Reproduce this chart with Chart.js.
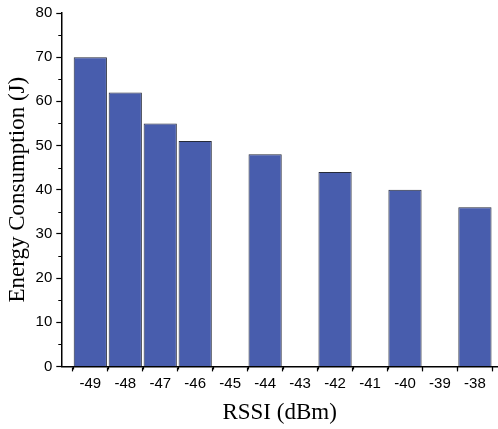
<!DOCTYPE html>
<html>
<head>
<meta charset="utf-8">
<script src="https://cdn.jsdelivr.net/npm/chart.js@4"></script>
<style>
html,body{margin:0;padding:0;background:#fff;}
#wrap{width:498px;height:429px;}
</style>
</head>
<body>
<div id="wrap"><canvas id="c" width="498" height="429"></canvas></div>
<script>
const rssi = [-49, -48, -47, -46, -44, -42, -40, -38];
const energy = [70, 62, 55, 51, 48, 44, 40, 36];
const xTickValues = [-49, -48, -47, -46, -45, -44, -43, -42, -41, -40, -39, -38];
const yTickValues = [0, 10, 20, 30, 40, 50, 60, 70, 80];
const xTitle = 'RSSI (dBm)';
const yTitle = 'Energy Consumption (J)';

const minorTicks = {
  id: 'minorTicks',
  afterDraw(chart) {
    const ctx = chart.ctx;
    const xs = chart.scales.x, ys = chart.scales.y;
    ctx.save();
    ctx.strokeStyle = '#000';
    ctx.lineWidth = 1.2;
    ctx.beginPath();
    for (let i = 0; i < yTickValues.length - 1; i++) {
      const v = (yTickValues[i] + yTickValues[i + 1]) / 2;
      const py = Math.round(ys.getPixelForValue(v)) + 0.5;
      ctx.moveTo(xs.left, py);
      ctx.lineTo(xs.left - 3, py);
    }
    const halfs = xTickValues.map(v => v - 0.5).concat([xTickValues[xTickValues.length - 1] + 0.5]);
    halfs.forEach(v => {
      const px = Math.round(xs.getPixelForValue(v)) + 0.5;
      ctx.moveTo(px, ys.bottom);
      ctx.lineTo(px, ys.bottom + 3);
    });
    ctx.stroke();
    ctx.restore();
  }
};

new Chart(document.getElementById('c'), {
  type: 'bar',
  data: {
    datasets: [{
      data: rssi.map((x, i) => ({x: x, y: energy[i]})),
      backgroundColor: 'rgb(72,93,173)',
      borderColor: '#252a3a',
      borderWidth: 1,
      barPercentage: 1.0,
      categoryPercentage: 0.95
    }]
  },
  options: {
    responsive: false,
    animation: false,
    devicePixelRatio: 1,
    layout: {padding: {left: 4, right: 0, top: 0, bottom: 2}},
    plugins: {legend: {display: false}, tooltip: {enabled: false}},
    scales: {
      x: {
        type: 'linear',
        min: -49.83,
        max: -37.34,
        offset: false,
        afterBuildTicks(scale) { scale.ticks = xTickValues.map(v => ({value: v})); },
        ticks: {
          color: '#000',
          font: {family: 'Liberation Sans', size: 15},
          padding: 3,
          maxRotation: 0,
          autoSkip: false,
          callback: v => String(v)
        },
        grid: {display: true, drawOnChartArea: false, drawTicks: true, tickLength: 5, tickColor: '#000', tickWidth: 1.2},
        border: {display: true, color: '#000', width: 1.5},
        title: {display: true, text: xTitle, color: '#000', font: {family: 'Liberation Serif', size: 23}, padding: {top: 4, bottom: 0}}
      },
      y: {
        min: 0,
        max: 80,
        afterBuildTicks(scale) { scale.ticks = yTickValues.map(v => ({value: v})); },
        ticks: {
          color: '#000',
          font: {family: 'Liberation Sans', size: 15},
          padding: 4
        },
        grid: {display: true, drawOnChartArea: false, drawTicks: true, tickLength: 5, tickColor: '#000', tickWidth: 1.2},
        border: {display: true, color: '#000', width: 1.5},
        title: {display: true, text: yTitle, color: '#000', font: {family: 'Liberation Serif', size: 23}, padding: {top: 0, bottom: 0}}
      }
    }
  },
  plugins: [minorTicks]
});
</script>
</body>
</html>
